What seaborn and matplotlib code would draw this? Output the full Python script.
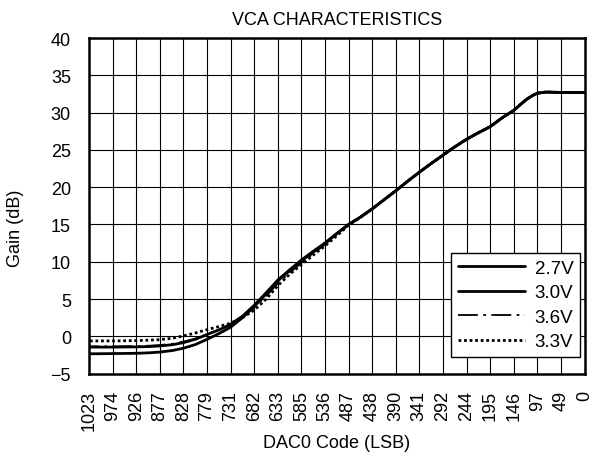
import numpy as np
import pandas as pd
import seaborn as sns
from matplotlib import pyplot as plt

# DAC0 code (x, reversed axis) and gain in dB for each supply voltage
codes = [1023, 974, 926, 900, 877, 850, 828, 803, 779, 755, 731, 706, 682, 657,
         633, 609, 585, 560, 536, 511, 487, 462, 438, 414, 390, 365, 341, 316,
         292, 268, 244, 219, 195, 170, 158, 146, 132, 119, 107, 97, 80, 49, 25, 0]

upper = [16.0, 17.1, 18.3, 19.5, 20.8, 22.0, 23.2, 24.3, 25.4, 26.4, 27.3, 28.1,
         29.3, 29.8, 30.3, 31.1, 31.8, 32.3, 32.6, 32.75, 32.7, 32.7, 32.7]

gain_27 = [-2.35, -2.32, -2.28, -2.22, -2.12, -1.9, -1.6, -1.1, -0.4, 0.35, 1.2,
           2.5, 4.0, 5.7, 7.45, 8.8, 10.1, 11.3, 12.45, 13.8, 15.0] + upper
gain_30 = [-1.45, -1.45, -1.42, -1.38, -1.3, -1.12, -0.85, -0.4, 0.25, 0.85, 1.6,
           2.7, 4.15, 5.85, 7.55, 8.9, 10.2, 11.4, 12.5, 13.8, 15.0] + upper
gain_36 = [-1.35, -1.35, -1.32, -1.27, -1.18, -1.0, -0.72, -0.3, 0.3, 0.85, 1.5,
           2.5, 3.85, 5.4, 7.1, 8.5, 9.8, 11.1, 12.3, 13.7, 14.95] + upper
gain_33 = [-0.62, -0.62, -0.58, -0.52, -0.45, -0.25, 0.05, 0.45, 0.9, 1.3, 1.75,
           2.5, 3.5, 5.0, 6.8, 8.3, 9.6, 10.9, 12.1, 13.5, 14.9] + upper

tick_labels = ["1023", "974", "926", "877", "828", "779", "731", "682", "633",
               "585", "536", "487", "438", "390", "341", "292", "244", "195",
               "146", "97", "49", "0"]

series = [("2.7V", gain_27, "-", 2.0),
          ("3.0V", gain_30, "-", 2.0),
          ("3.6V", gain_36, (0, (11, 3, 1.5, 3)), 1.3),
          ("3.3V", gain_33, (0, (1, 1)), 2.0)]

sns.set_style("white", {"text.color": "black", "axes.labelcolor": "black"})
plt.rcParams['font.family'] = ['Liberation Sans', 'DejaVu Sans']

fig = plt.figure(figsize=(5.93, 4.6), dpi=100)
ax = fig.add_axes([0.150, 0.1857, 0.8357, 0.7295])

for name, vals, ls, lw in series:
    sns.lineplot(x=codes, y=vals, ax=ax, color="black", linestyle=ls,
                 linewidth=lw, label=name)

ax.set_xlim(1023, 0)
ax.set_ylim(-5, 40)
ax.set_xticks(np.linspace(1023, 0, 22))
ax.set_xticklabels(tick_labels, rotation=90)
ax.set_yticks(range(-5, 41, 5))
ax.tick_params(axis="both", length=0, labelsize=13, colors="black")
ax.tick_params(axis="x", pad=12)
ax.tick_params(axis="y", pad=13)
ax.grid(True, color="black", linewidth=0.8)
for s in ax.spines.values():
    s.set_color("black")
    s.set_linewidth(1.8)

ax.set_title("VCA CHARACTERISTICS", fontsize=13, pad=10, color="black")
ax.set_ylabel("Gain (dB)", fontsize=13, color="black")
ax.set_xlabel("DAC0 Code (LSB)", fontsize=13, color="black")
ax.yaxis.set_label_coords(-0.131, 0.437)
ax.xaxis.set_label_coords(0.5, -0.18)

leg = ax.legend(loc="lower right", bbox_to_anchor=(0.991, 0.0495),
                fontsize=13.5, handlelength=3.6, fancybox=False, framealpha=1,
                edgecolor="black", borderaxespad=0, borderpad=0.35,
                labelspacing=0.4, handletextpad=0.5)
leg.get_frame().set_linewidth(1.0)
for t in leg.get_texts():
    t.set_color("black")

fig.savefig("out.png", dpi=100)
